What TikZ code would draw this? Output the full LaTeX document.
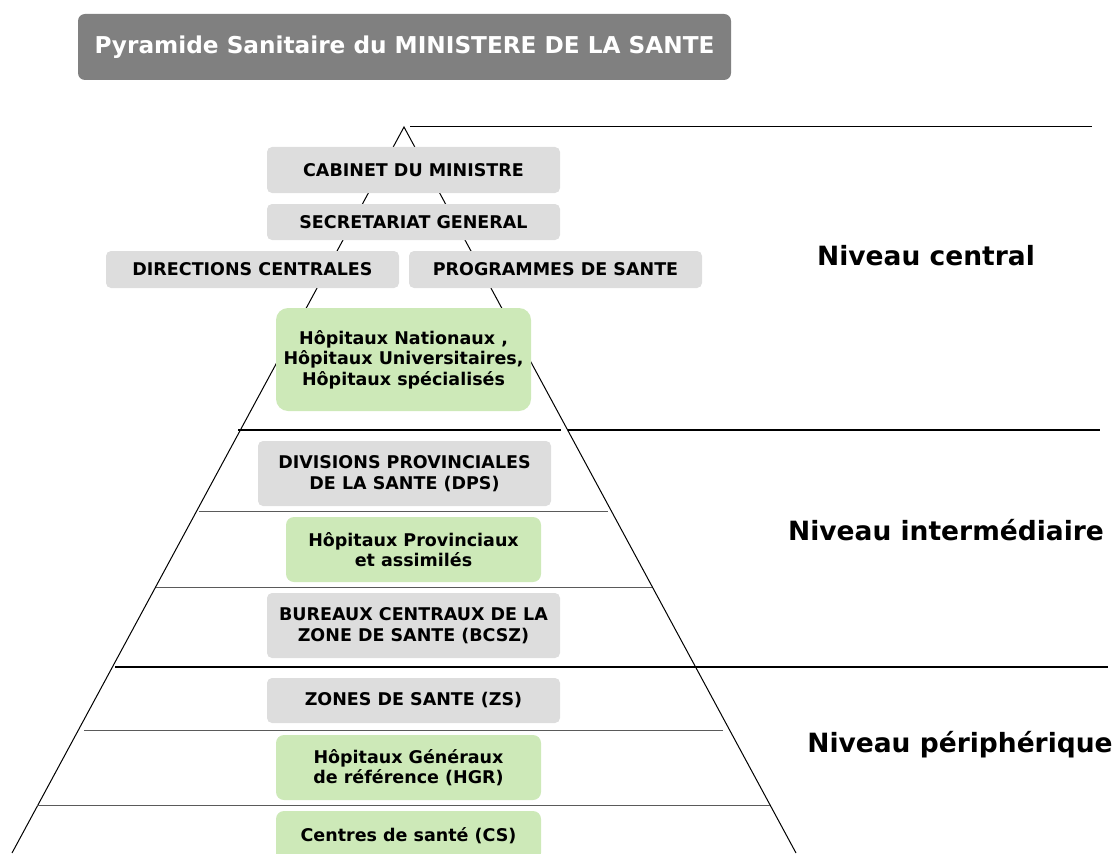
\documentclass[tikz,border=0pt]{standalone}
\usepackage{fontspec}
\setmainfont{DejaVu Sans}
\definecolor{boxgray}{RGB}{221,221,221}
\definecolor{boxgreen}{RGB}{205,233,184}
\definecolor{titlegray}{RGB}{128,128,128}
\definecolor{sepgray}{RGB}{90,90,90}
\tikzset{
  graybox/.style={fill=boxgray, rounded corners=5pt, inner sep=0pt, align=center,
    font=\fontsize{17.5}{20.5}\selectfont\bfseries},
  greenbox/.style={fill=boxgreen, rounded corners=8pt, inner sep=0pt, align=center,
    font=\fontsize{17.5}{20.5}\selectfont\bfseries},
  levellabel/.style={font=\fontsize{26.5}{30}\selectfont\bfseries, inner sep=0pt},
  edge/.style={black, line width=1pt},
  divider/.style={black, line width=1.3pt},
  sep/.style={sepgray, line width=0.8pt}
}
\begin{document}
\begin{tikzpicture}[x=1pt, y=-1pt]
\useasboundingbox (0,0) rectangle (1115,853);
\clip (0,0) rectangle (1115,853);
% pyramid outline
\coordinate (apex) at (404,127);
\coordinate (bl) at (12,853);
\coordinate (br) at (796,853);
\draw[edge] (bl) -- (apex) -- (br);
% level dividers
\draw[edge] (410,127) -- (1092,127);
\draw[divider] (238,430) -- (561,430);
\draw[divider] (568,430) -- (1100,430);
\draw[divider] (115,667) -- (1108,667);
% inner separators
\draw[sep] (199,511) -- (608,511);
\draw[sep] (156,587) -- (652,587);
\draw[sep] (84,730) -- (723,730);
\draw[sep] (37,805) -- (770,805);
% title
\node[fill=titlegray, rounded corners=7pt, minimum width=653pt, minimum height=66pt,
  text=white, font=\fontsize{23.2}{26}\selectfont\bfseries] (title) at (404.5,47)
  {Pyramide Sanitaire du MINISTERE DE LA SANTE};
% boxes
\node[graybox, minimum width=293pt, minimum height=46pt] (cab) at (413.5,170) {CABINET DU MINISTRE};
\node[graybox, minimum width=293pt, minimum height=36pt] (sg) at (413.5,222) {SECRETARIAT GENERAL};
\node[graybox, minimum width=293pt, minimum height=37pt] (dc) at (252.5,269.5) {DIRECTIONS CENTRALES};
\node[graybox, minimum width=293pt, minimum height=37pt] (ps) at (555.5,269.5) {PROGRAMMES DE SANTE};
\node[greenbox, rounded corners=12pt, minimum width=255pt, minimum height=103pt] (hn) at (403.5,359.5)
  {Hôpitaux Nationaux ,\\Hôpitaux Universitaires,\\Hôpitaux spécialisés};
\node[graybox, minimum width=293pt, minimum height=65pt] (dps) at (404.5,473.5)
  {DIVISIONS PROVINCIALES\\DE LA SANTE (DPS)};
\node[greenbox, minimum width=255pt, minimum height=65pt] (hp) at (413.5,549.5)
  {Hôpitaux Provinciaux\\ et assimilés};
\node[graybox, minimum width=293pt, minimum height=65pt] (bcsz) at (413.5,625.5)
  {BUREAUX CENTRAUX DE LA\\ZONE DE SANTE (BCSZ)};
\node[graybox, minimum width=293pt, minimum height=45pt] (zs) at (413.5,700.5) {ZONES DE SANTE (ZS)};
\node[greenbox, minimum width=265pt, minimum height=65pt] (hgr) at (408.5,767.5)
  {Hôpitaux Généraux\\de référence (HGR)};
\node[greenbox, minimum width=265pt, minimum height=50pt] (cs) at (408.5,836) {Centres de santé (CS)};
% level labels
\node[levellabel] (lc) at (926,256) {Niveau central};
\node[levellabel] (li) at (946,530) {Niveau intermédiaire};
\node[levellabel] (lp) at (960,745) {Niveau périphérique};
\end{tikzpicture}
\end{document}
